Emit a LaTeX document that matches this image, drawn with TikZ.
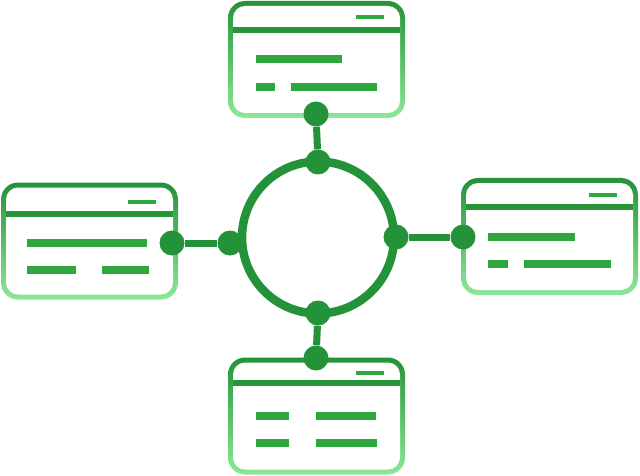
\documentclass[tikz,border=0pt]{standalone}
\usepackage{tikz}

\definecolor{dkgreen}{RGB}{36,146,56}
\definecolor{mdgreen}{RGB}{48,170,64}
\definecolor{ltgreen}{RGB}{140,232,152}

\tikzset{
  card/.style={rectangle, rounded corners=17pt, minimum width=177pt, minimum height=117pt,
    inner sep=0pt, top color=dkgreen, middle color=mdgreen!90!ltgreen, bottom color=ltgreen},
  cardin/.style={rectangle, rounded corners=12pt, minimum width=167pt, minimum height=107pt,
    inner sep=0pt, fill=white},
  dot/.style={circle, fill=dkgreen, minimum size=25pt, inner sep=0pt},
  link/.style={dkgreen, line width=7pt},
  header/.style={dkgreen!85!mdgreen, line width=6pt},
  tab/.style={mdgreen, line width=4pt},
  bar/.style={mdgreen!85!dkgreen, line width=8pt}
}

\begin{document}
\begin{tikzpicture}[x=1pt, y=1pt]
    \useasboundingbox (0,0) rectangle (640,-476);

    % Draw the ring in the middle
    \node[circle, draw=dkgreen, line width=8.5pt, minimum size=152pt, inner sep=0pt] (hub) at (318,-237.5) {};

    % Draw the top card
    \node[card] (topcard) at (316.5,-59.5) {};
    \node[cardin] (topin) at (topcard) {};
    \draw[header] (233,-30) -- (400,-30);
    \draw[tab] (356,-17) -- (384,-17);
    \draw[bar] (256,-59) -- (342,-59);
    \draw[bar] (256,-87) -- (275,-87);
    \draw[bar] (291,-87) -- (377,-87);

    % Draw the left card
    \node[card] (leftcard) at (89.5,-241) {};
    \node[cardin] (leftin) at (leftcard) {};
    \draw[header] (6,-214) -- (173,-214);
    \draw[tab] (128,-202) -- (156,-202);
    \draw[bar] (27,-243) -- (147,-243);
    \draw[bar] (27,-270) -- (76,-270);
    \draw[bar] (102,-270) -- (149,-270);

    % Draw the right card
    \node[card] (rightcard) at (549.5,-236.5) {};
    \node[cardin] (rightin) at (rightcard) {};
    \draw[header] (466,-207) -- (633,-207);
    \draw[tab] (589,-195) -- (617,-195);
    \draw[bar] (488,-237) -- (575,-237);
    \draw[bar] (488,-264) -- (508,-264);
    \draw[bar] (524,-264) -- (611,-264);

    % Draw the bottom card
    \node[card] (botcard) at (316.5,-416) {};
    \node[cardin] (botin) at (botcard) {};
    \draw[header] (233,-383) -- (400,-383);
    \draw[tab] (356,-373) -- (384,-373);
    \draw[bar] (256,-416) -- (289,-416);
    \draw[bar] (316,-416) -- (376,-416);
    \draw[bar] (256,-443) -- (289,-443);
    \draw[bar] (316,-443) -- (377,-443);

    % Draw the dots and links
    \node[dot] (t1) at (316,-114) {};
    \node[dot] (t2) at (318,-162) {};
    \draw[link] (t1) -- (t2);

    \node[dot] (l1) at (172,-243) {};
    \node[dot] (l2) at (230,-243) {};
    \draw[link] (l1) -- (l2);

    \node[dot] (r1) at (396,-237) {};
    \node[dot] (r2) at (463,-237) {};
    \draw[link] (r1) -- (r2);

    \node[dot] (b1) at (318,-313) {};
    \node[dot] (b2) at (316,-358) {};
    \draw[link] (b1) -- (b2);
\end{tikzpicture}
\end{document}
